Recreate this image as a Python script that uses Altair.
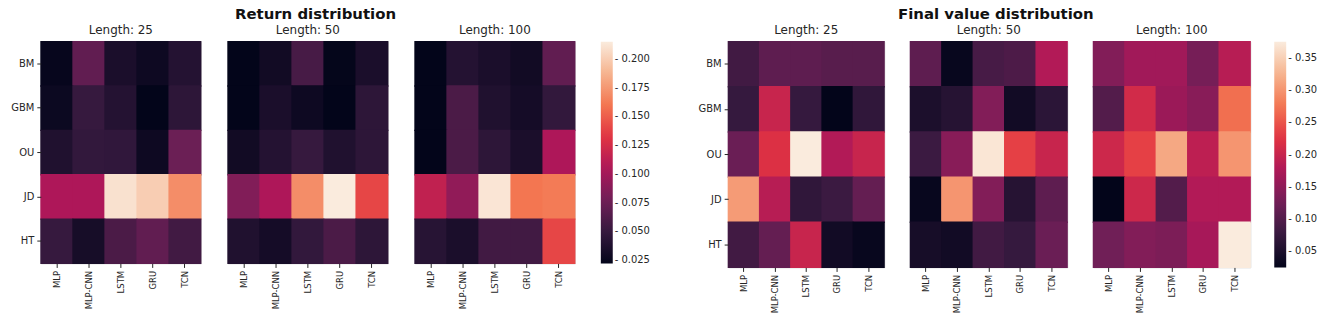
import altair as alt
import pandas as pd

models = ["MLP", "MLP-CNN", "LSTM", "GRU", "TCN"]
processes = ["BM", "GBM", "OU", "JD", "HT"]
lengths = [25, 50, 100]

# Return distribution (rows: processes, cols: models)
ret_25 = [
    [0.024, 0.070, 0.035, 0.028, 0.040],
    [0.027, 0.050, 0.040, 0.022, 0.045],
    [0.038, 0.048, 0.047, 0.028, 0.075],
    [0.105, 0.105, 0.210, 0.200, 0.170],
    [0.050, 0.033, 0.060, 0.070, 0.055],
]
ret_50 = [
    [0.022, 0.030, 0.058, 0.023, 0.035],
    [0.022, 0.035, 0.028, 0.022, 0.045],
    [0.030, 0.040, 0.050, 0.038, 0.045],
    [0.085, 0.105, 0.170, 0.215, 0.140],
    [0.038, 0.032, 0.048, 0.060, 0.045],
]
ret_100 = [
    [0.022, 0.040, 0.035, 0.030, 0.070],
    [0.022, 0.060, 0.038, 0.032, 0.048],
    [0.022, 0.060, 0.045, 0.035, 0.105],
    [0.115, 0.092, 0.212, 0.160, 0.162],
    [0.042, 0.035, 0.055, 0.055, 0.140],
]

# Final value distribution
fin_25 = [
    [0.085, 0.110, 0.110, 0.105, 0.105],
    [0.075, 0.200, 0.075, 0.025, 0.070],
    [0.120, 0.220, 0.375, 0.180, 0.200],
    [0.305, 0.185, 0.070, 0.080, 0.115],
    [0.085, 0.115, 0.200, 0.040, 0.030],
]
fin_50 = [
    [0.110, 0.030, 0.090, 0.095, 0.180],
    [0.050, 0.060, 0.140, 0.040, 0.065],
    [0.080, 0.145, 0.370, 0.235, 0.200],
    [0.030, 0.300, 0.140, 0.060, 0.110],
    [0.045, 0.040, 0.085, 0.075, 0.120],
]
fin_100 = [
    [0.140, 0.165, 0.165, 0.130, 0.185],
    [0.100, 0.210, 0.160, 0.145, 0.270],
    [0.205, 0.235, 0.315, 0.190, 0.300],
    [0.025, 0.205, 0.100, 0.180, 0.180],
    [0.125, 0.140, 0.135, 0.170, 0.375],
]

ret_ticks = [0.025, 0.050, 0.075, 0.100, 0.125, 0.150, 0.175, 0.200]
fin_ticks = [0.05, 0.10, 0.15, 0.20, 0.25, 0.30, 0.35]

rocket = ["#03051a", "#35193e", "#701f57", "#ad1759", "#e13342",
          "#f37651", "#f6b48f", "#faebdd"]

FONT = "DejaVu Sans"
TXT = "#262626"


def to_df(mat):
    rows = []
    for i, p in enumerate(processes):
        for j, m in enumerate(models):
            rows.append({"process": p, "model": m, "value": mat[i][j]})
    return pd.DataFrame(rows)


def stops(lo, hi):
    n = len(rocket) - 1
    return [lo + (hi - lo) * k / n for k in range(n + 1)]


def panel(mat, length, first, w, h, lo, hi, ticks, fmt, glen, loff):
    y_axis = alt.Axis(title="", labelFontSize=10, labelFont=FONT, labelColor=TXT,
                      tickSize=4, tickColor=TXT, domain=False, labelPadding=3)
    x_axis = alt.Axis(title="", labelAngle=270, labelFontSize=8.5, labelFont=FONT,
                      labelColor=TXT, tickSize=4, tickColor=TXT, domain=False,
                      labelPadding=3)
    yenc = alt.Y("process:N", sort=processes, axis=y_axis) if first else \
        alt.Y("process:N", sort=processes, axis=None)
    return alt.Chart(to_df(mat)).mark_rect(
        width=alt.RelativeBandSize(1.03), height=alt.RelativeBandSize(1.03)
    ).encode(
        x=alt.X("model:N", sort=models, axis=x_axis),
        y=yenc,
        color=alt.Color(
            "value:Q",
            title="",
            scale=alt.Scale(domain=stops(lo, hi), range=rocket, interpolate="rgb"),
            legend=alt.Legend(
                values=ticks, gradientLength=glen, gradientThickness=12,
                offset=loff, labelFontSize=10, labelFont=FONT, labelColor=TXT,
                labelExpr="'- ' + format(datum.value, '" + fmt + "')",
                labelOffset=2, gradientStrokeWidth=0,
            ),
        ),
    ).properties(
        width=w, height=h,
        title=alt.TitleParams(f"Length: {length}", fontSize=12, font=FONT,
                              fontWeight="normal", color=TXT, offset=4),
    )


left = alt.hconcat(
    panel(ret_25, 25, True, 161, 223, 0.022, 0.215, ret_ticks, ".3f", 223, 25),
    panel(ret_50, 50, False, 161, 223, 0.022, 0.215, ret_ticks, ".3f", 223, 25),
    panel(ret_100, 100, False, 161, 223, 0.022, 0.215, ret_ticks, ".3f", 223, 25),
    spacing=25,
    title=alt.TitleParams("Return distribution", fontSize=15, font=FONT,
                          fontWeight="bold", color="#111111", anchor="middle",
                          offset=2, dx=-15),
)

right = alt.hconcat(
    panel(fin_25, 25, True, 157, 227, 0.025, 0.375, fin_ticks, ".2f", 227, 23),
    panel(fin_50, 50, False, 158, 227, 0.025, 0.375, fin_ticks, ".2f", 227, 23),
    panel(fin_100, 100, False, 158, 227, 0.025, 0.375, fin_ticks, ".2f", 227, 23),
    spacing=24,
    title=alt.TitleParams("Final value distribution", fontSize=15, font=FONT,
                          fontWeight="bold", color="#111111", anchor="middle",
                          offset=2, dx=-12),
)

chart = alt.hconcat(left, right, spacing=47).resolve_scale(
    color="independent"
).properties(
    padding={"left": 10, "top": 5, "right": 5, "bottom": 5},
).configure_view(strokeWidth=0).configure(background="white")

chart.save("out.html", embed_options={"renderer": "svg", "actions": False})
